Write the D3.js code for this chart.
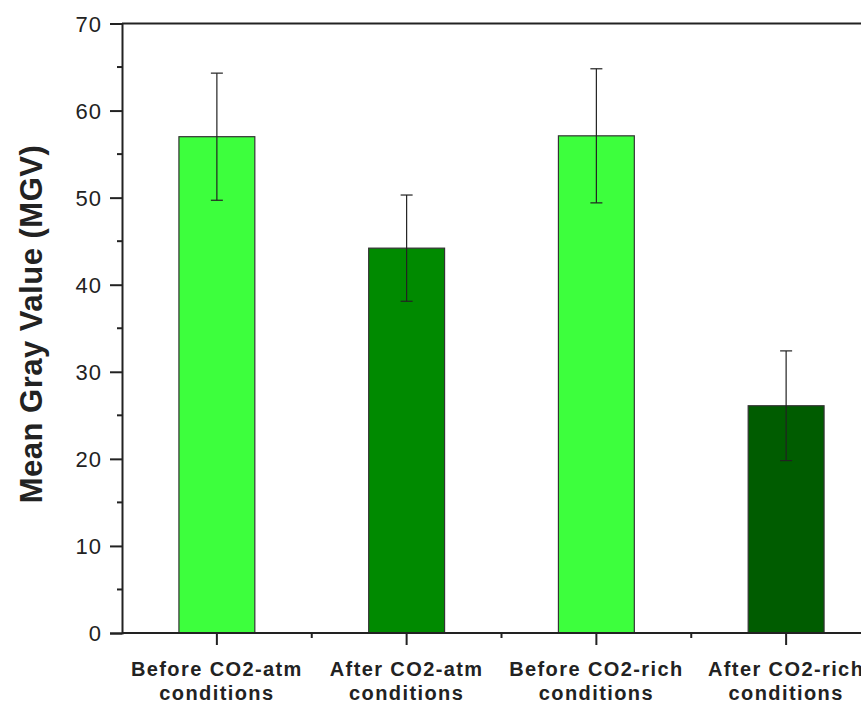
<!DOCTYPE html>
<html>
<head>
<meta charset="utf-8">
<script src="https://cdn.jsdelivr.net/npm/d3@7"></script>
<style>
  body { margin: 0; background: #fff; }
  svg { display: block; font-family: "Liberation Sans", Arial, sans-serif; }
</style>
</head>
<body>
<div id="chart"></div>
<script>
// data
const categories = ["Before CO2-atm|conditions", "After CO2-atm|conditions", "Before CO2-rich|conditions", "After CO2-rich|conditions"];
const means = [57.0, 44.2, 57.1, 26.1];
const errors = [7.3, 6.1, 7.7, 6.3];
const barColors = ["#3dff3d", "#008a00", "#3dff3d", "#005c00"];
const yTicks = [0, 10, 20, 30, 40, 50, 60, 70];

const W = 861, H = 707;
const mLeft = 122, mTop = 23.5, mBottom = 633, mRight = 881;

const svg = d3.select("#chart").append("svg").attr("width", W).attr("height", H);

const x = d3.scaleBand().domain(categories).range([mLeft, mRight]).paddingInner(0.6).paddingOuter(0.3);
const y = d3.scaleLinear().domain([0, 70]).range([mBottom, mTop]);

// bars
svg.append("g").selectAll("rect").data(categories).enter().append("rect")
  .attr("x", d => x(d))
  .attr("y", (d, i) => y(means[i]))
  .attr("width", x.bandwidth())
  .attr("height", (d, i) => y(0) - y(means[i]))
  .attr("fill", (d, i) => barColors[i])
  .attr("stroke", "#333").attr("stroke-width", 1.2);

// error bars
const eb = svg.append("g").attr("stroke", "#222").attr("stroke-width", 1.2);
categories.forEach((c, i) => {
  const cx = x(c) + x.bandwidth() / 2;
  eb.append("line").attr("x1", cx).attr("x2", cx).attr("y1", y(means[i] + errors[i])).attr("y2", y(means[i] - errors[i]));
  [means[i] + errors[i], means[i] - errors[i]].forEach(v => {
    eb.append("line").attr("x1", cx - 6).attr("x2", cx + 6).attr("y1", y(v)).attr("y2", y(v));
  });
});

// y axis
const yAxis = svg.append("g").attr("transform", `translate(${mLeft},0)`)
  .call(d3.axisLeft(y).tickValues(yTicks).tickSize(12).tickPadding(8).tickFormat(d3.format("d")));
yAxis.select(".domain").attr("stroke", "#222").attr("stroke-width", 2);
yAxis.selectAll(".tick line").attr("stroke", "#222").attr("stroke-width", 2);
yAxis.selectAll(".tick text").attr("font-size", 22).attr("fill", "#222")
  .attr("letter-spacing", 1).attr("dy", "0.36em")
  .attr("font-family", "Liberation Sans, Arial, sans-serif");
// minor y ticks
svg.append("g").selectAll("line").data(d3.range(5, 70, 10)).enter().append("line")
  .attr("x1", mLeft - 5).attr("x2", mLeft).attr("y1", d => y(d)).attr("y2", d => y(d))
  .attr("stroke", "#222").attr("stroke-width", 2);

// x axis
svg.append("line").attr("x1", mLeft).attr("x2", W).attr("y1", mBottom).attr("y2", mBottom)
  .attr("stroke", "#222").attr("stroke-width", 2);
svg.append("g").selectAll("line").data(categories).enter().append("line")
  .attr("x1", d => x(d) + x.bandwidth() / 2).attr("x2", d => x(d) + x.bandwidth() / 2)
  .attr("y1", mBottom).attr("y2", mBottom + 12)
  .attr("stroke", "#222").attr("stroke-width", 2);
// minor x ticks between categories
svg.append("g").selectAll("line").data(categories.slice(1)).enter().append("line")
  .attr("x1", d => x(d) - x.step() * x.paddingInner() / 2).attr("x2", d => x(d) - x.step() * x.paddingInner() / 2)
  .attr("y1", mBottom).attr("y2", mBottom + 5)
  .attr("stroke", "#222").attr("stroke-width", 2);

// category labels
const lab = svg.append("g").selectAll("text").data(categories).enter().append("text")
  .attr("x", d => x(d) + x.bandwidth() / 2)
  .attr("y", mBottom + 43)
  .attr("text-anchor", "middle")
  .attr("font-size", 20).attr("font-weight", "bold").attr("fill", "#222")
  .attr("letter-spacing", "1.4");
lab.each(function(d) {
  const parts = d.split("|");
  const t = d3.select(this);
  t.append("tspan").attr("x", t.attr("x")).attr("dy", 0).text(parts[0]);
  t.append("tspan").attr("x", t.attr("x")).attr("dy", 24).text(parts[1]);
});

// top frame
svg.append("line").attr("x1", mLeft).attr("x2", W).attr("y1", mTop).attr("y2", mTop)
  .attr("stroke", "#222").attr("stroke-width", 2);

// y title
svg.append("text")
  .attr("transform", "translate(42,324) rotate(-90)")
  .attr("text-anchor", "middle")
  .attr("font-size", 31).attr("font-weight", "bold").attr("fill", "#222")
  .attr("letter-spacing", 0.5)
  .text("Mean Gray Value (MGV)");
</script>
</body>
</html>
